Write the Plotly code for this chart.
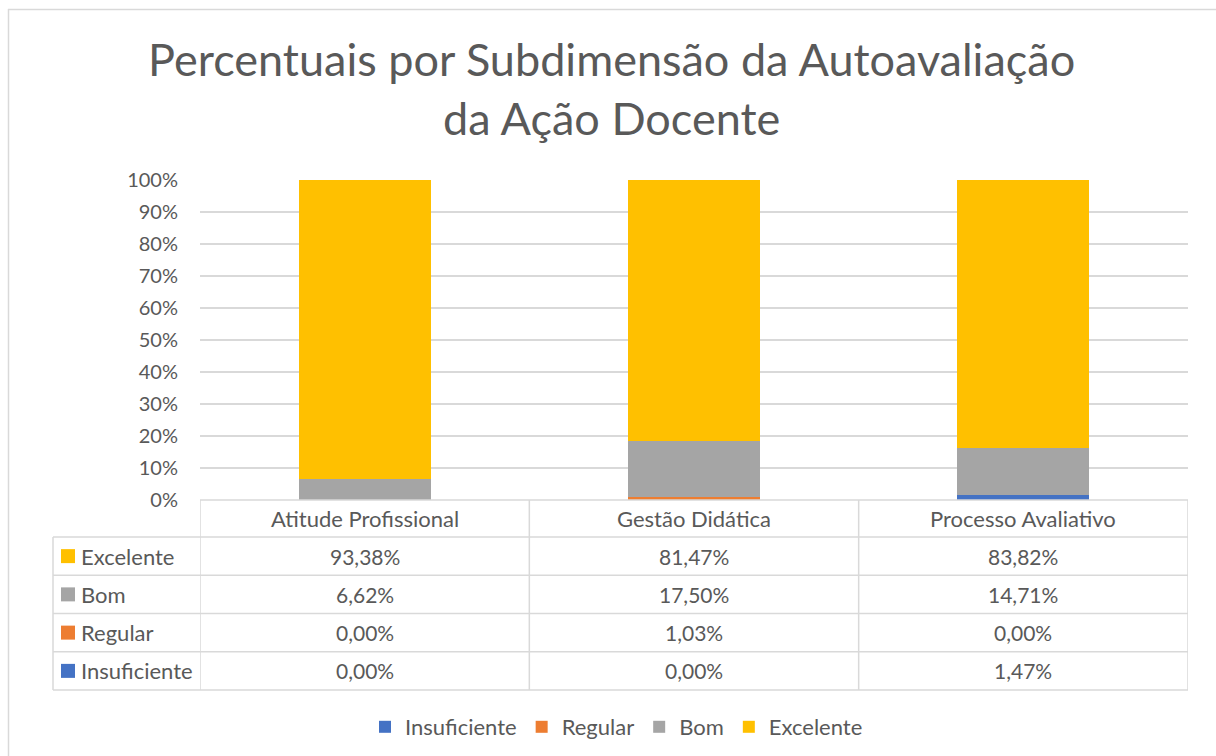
import plotly.graph_objects as go

categories = ["Atitude Profissional", "Gestão Didática", "Processo Avaliativo"]
series_names = ["Insuficiente", "Regular", "Bom", "Excelente"]
insuficiente = [0.00, 0.00, 1.47]
regular = [0.00, 1.03, 0.00]
bom = [6.62, 17.50, 14.71]
excelente = [93.38, 81.47, 83.82]
y_ticks = [0, 10, 20, 30, 40, 50, 60, 70, 80, 90, 100]
y_tick_labels = ["0%", "10%", "20%", "30%", "40%", "50%", "60%", "70%", "80%", "90%", "100%"]
title_text = "Percentuais por Subdimensão da Autoavaliação<br>da Ação Docente"

series_values = [insuficiente, regular, bom, excelente]
colors = ["#4472C4", "#ED7D31", "#A5A5A5", "#FFC000"]

W, H = 1216, 756
FONT = "Lato"
TXT = "#595959"
GRID = "#D9D9D9"


def px(x):
    return x / W


def py(y):
    return 1 - y / H


fig = go.Figure()
for name, vals, col in zip(series_names, series_values, colors):
    fig.add_trace(go.Bar(
        x=categories, y=vals, name=name,
        marker=dict(color=col, line=dict(width=0)),
        hoverinfo="name+y",
    ))

shapes = []
annotations = []

# chart outer border (left and top)
shapes.append(dict(type="line", xref="paper", yref="paper", x0=px(8.5), x1=px(8.5), y0=py(9), y1=py(756), line=dict(color=GRID, width=1.5)))
shapes.append(dict(type="line", xref="paper", yref="paper", x0=px(8), x1=1, y0=py(9.5), y1=py(9.5), line=dict(color=GRID, width=1.5)))

# data table
left_x = 53
header_top, header_bot = 500, 537
row_h = (690 - 537) / 4
row_tops = [header_bot + i * row_h for i in range(5)]
ncat = len(categories)
shapes.append(dict(type="line", xref="x", yref="paper", x0=-0.5, x1=ncat - 0.5, y0=py(header_top), y1=py(header_top), line=dict(color=GRID, width=1.5)))
for yy in row_tops:
    shapes.append(dict(type="line", xref="paper", yref="paper", x0=px(left_x), x1=px(1188), y0=py(yy), y1=py(yy), line=dict(color=GRID, width=1.5)))
shapes.append(dict(type="line", xref="paper", yref="paper", x0=px(left_x), x1=px(left_x), y0=py(header_bot), y1=py(row_tops[-1]), line=dict(color=GRID, width=1.5)))
for i in range(ncat + 1):
    shapes.append(dict(type="line", xref="x", yref="paper", x0=i - 0.5, x1=i - 0.5, y0=py(header_top), y1=py(row_tops[-1]), line=dict(color=GRID, width=1.5)))

for c in categories:
    annotations.append(dict(x=c, xref="x", y=py((header_top + header_bot) / 2), yref="paper", yanchor="middle",
                            text=c, showarrow=False, font=dict(family=FONT, size=22, color=TXT)))

for r, (name, vals, col) in enumerate(reversed(list(zip(series_names, series_values, colors)))):
    yc = row_tops[r] + row_h / 2
    shapes.append(dict(type="rect", xref="paper", yref="paper", x0=px(61), x1=px(75), y0=py(yc - 7), y1=py(yc + 7),
                       fillcolor=col, line=dict(width=0)))
    annotations.append(dict(x=px(79), xref="paper", y=py(yc), yref="paper", xanchor="left", yanchor="middle",
                            text=name, showarrow=False, font=dict(family=FONT, size=22, color=TXT)))
    for c, v in zip(categories, vals):
        annotations.append(dict(x=c, xref="x", y=py(yc), yref="paper", yanchor="middle",
                                text=f"{v:.2f}%".replace(".", ","), showarrow=False,
                                font=dict(family=FONT, size=21, color=TXT)))

fig.update_layout(
    width=W, height=H,
    margin=dict(l=0, r=0, t=0, b=0, pad=0),
    paper_bgcolor="white", plot_bgcolor="white",
    barmode="stack", bargap=0.6,
    font=dict(family=FONT, color=TXT),
    title=dict(text=title_text, x=0.503, xanchor="center", y=py(76), yanchor="top",
               font=dict(family=FONT, size=45, color=TXT)),
    xaxis=dict(domain=[px(200), px(1188)], range=[-0.5, ncat - 0.5], showticklabels=False,
               showgrid=False, zeroline=False, showline=False, automargin=False),
    yaxis=dict(domain=[py(500), py(180)], range=[0, 100], tickmode="array", tickvals=y_ticks, ticktext=y_tick_labels,
               showgrid=True, gridcolor=GRID, gridwidth=1.5, zeroline=False, showline=False, automargin=False,
               ticklabelstandoff=21, tickfont=dict(family=FONT, size=20, color=TXT)),
    legend=dict(orientation="h", x=0.507, xanchor="center", y=py(727), yanchor="middle",
                font=dict(family=FONT, size=22, color=TXT), itemwidth=30, traceorder="normal"),
    shapes=shapes, annotations=annotations,
)

fig.write_html("out.html", config={"displayModeBar": False},
               post_script="document.body.style.margin='0';document.body.style.overflow='hidden';")
